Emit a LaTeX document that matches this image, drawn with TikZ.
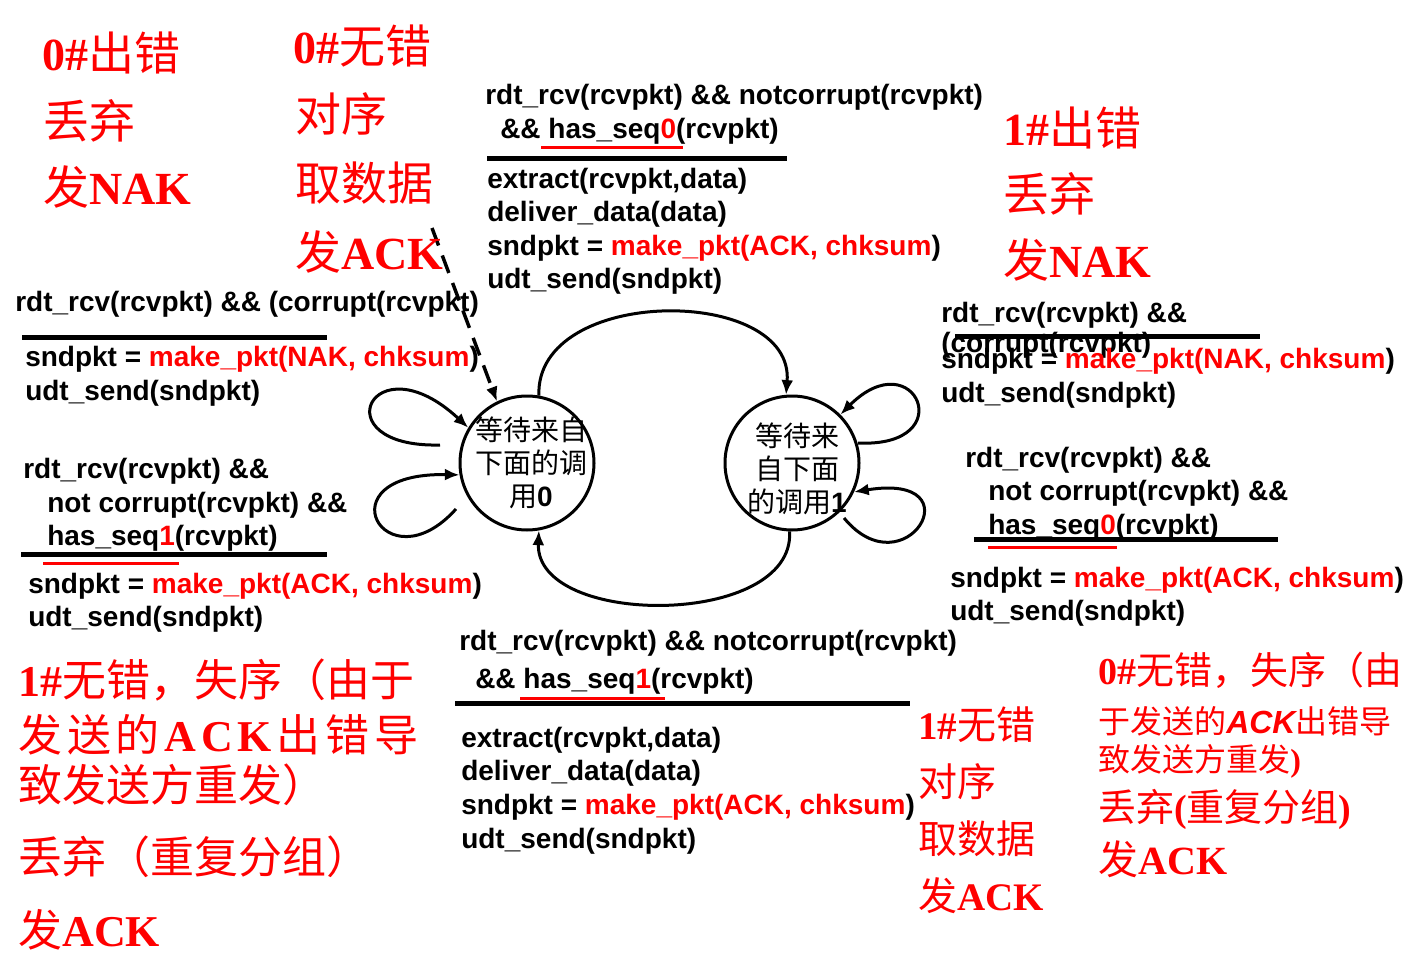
\documentclass[tikz,border=0pt]{standalone}
\usepackage{fontspec}
\usepackage{xcolor}
\usepackage{tikz}
\usetikzlibrary{arrows.meta}
\setmainfont{Liberation Sans}
\newfontfamily\cjk{Noto Sans CJK SC}
\newfontfamily\tms{Liberation Serif}
\newcommand{\romb}[1]{{\tms\bfseries #1}}
\newcommand{\redtxt}[1]{\textcolor{red}{#1}}
\newcommand{\acki}{{\rmfamily\bfseries\itshape ACK}}

\begin{document}
\begin{tikzpicture}[x=0.75pt, y=-0.75pt,
    code/.style={anchor=base west, inner sep=0pt, font=\fontsize{21}{25}\selectfont\bfseries},
    note/.style={anchor=base west, inner sep=0pt, text=red, font=\fontsize{34.5}{40}\selectfont\cjk},
    state/.style={draw, circle, line width=2.25pt, minimum size=100.5pt, inner sep=0pt},
    stxt/.style={align=center, inner sep=0pt, font=\fontsize{21}{25}\selectfont\cjk},
    edge/.style={line width=2.25pt, -{Latex[length=11pt, width=9pt]}},
    dashedge/.style={line width=2.6pt, dash pattern=on 14pt off 8pt, -{Latex[length=11pt, width=9pt]}},
    rule/.style={line width=3.75pt},
    redline/.style={red, line width=2.25pt}]
    \useasboundingbox (0,0) rectangle (1418,956);

    % States
    \node[state] (s0) at (527,463) {};
    \node[state] (s1) at (792,463) {};
    \node[stxt] (s0t) at (531,463) {等待来自\\下面的调\\用{\rmfamily\bfseries 0}};
    \node[stxt] (s1t) at (797,469) {等待来\\自下面\\的调用{\rmfamily\bfseries 1}};

    % Transitions between the states
    \draw[edge] (s0.80) .. controls (535,285) and (795,285) .. (s1.95);
    \draw[edge] (s1.268) .. controls (795,628) and (535,628) .. (s0.280);

    % Self loops
    \coordinate (l0a) at (440,445);
    \coordinate (l0b) at (456,509);
    \coordinate (l1a) at (858,443);
    \coordinate (l1b) at (844,518);
    \draw[edge] (l0a) .. controls (320,448) and (372,338) .. (s0.149);
    \draw[edge] (l0b) .. controls (385,588) and (320,472) .. (s0.190);
    \draw[edge] (l1a) .. controls (962,448) and (915,340) .. (s1.45);
    \draw[edge] (l1b) .. controls (905,592) and (978,472) .. (s1.335);

    % Dashed pointer
    \coordinate (dsh) at (432,228);
    \draw[dashedge] (dsh) -- (s0.116);

    % Top action
    \node[code] (t1) at (485,105) {rdt\_rcv(rcvpkt) \&\& notcorrupt(rcvpkt)};
    \node[code] (t2) at (500,138) {\&\& has\_seq\redtxt{0}(rcvpkt)};
    \draw[redline] (541,147) -- (683,147);
    \draw[rule] (487,158) -- (787,158);
    \node[code] (t3) at (487,188) {extract(rcvpkt,data)};
    \node[code] (t4) at (487,221) {deliver\_data(data)};
    \node[code] (t5) at (487,255) {sndpkt = \redtxt{make\_pkt(ACK, chksum})};
    \node[code] (t6) at (487,288) {udt\_send(sndpkt)};

    % Left upper loop
    \node[code] (la1) at (15,311) {rdt\_rcv(rcvpkt) \&\& (corrupt(rcvpkt)};
    \draw[rule] (22,337) -- (327,337);
    \node[code] (la2) at (25,366) {sndpkt = \redtxt{make\_pkt(NAK, chksum})};
    \node[code] (la3) at (25,400) {udt\_send(sndpkt)};

    % Left lower loop
    \node[code] (lb1) at (23,478) {rdt\_rcv(rcvpkt) \&\&};
    \node[code] (lb2) at (47,512) {not corrupt(rcvpkt) \&\&};
    \node[code] (lb3) at (47,545) {has\_seq\redtxt{1}(rcvpkt)};
    \draw[rule] (21,554) -- (327,554);
    \draw[redline] (43,563) -- (179,563);
    \node[code] (lb4) at (28,593) {sndpkt = \redtxt{make\_pkt(ACK, chksum})};
    \node[code] (lb5) at (28,626) {udt\_send(sndpkt)};

    % Right upper loop
    \node[code] (ra1) at (941,322) {rdt\_rcv(rcvpkt) \&\&};
    \node[code] (ra2) at (941,352) {(corrupt(rcvpkt)};
    \draw[rule] (955,336) -- (1260,336);
    \node[code] (ra3) at (941,368) {sndpkt = \redtxt{make\_pkt(NAK, chksum})};
    \node[code] (ra4) at (941,402) {udt\_send(sndpkt)};

    % Right lower loop
    \node[code] (rb1) at (965,467) {rdt\_rcv(rcvpkt) \&\&};
    \node[code] (rb2) at (988,500) {not corrupt(rcvpkt) \&\&};
    \node[code] (rb3) at (988,534) {has\_seq\redtxt{0}(rcvpkt)};
    \draw[rule] (974,539) -- (1278,539);
    \draw[redline] (988,547) -- (1117,547);
    \node[code] (rb4) at (950,587) {sndpkt = \redtxt{make\_pkt(ACK, chksum})};
    \node[code] (rb5) at (950,620) {udt\_send(sndpkt)};

    % Bottom action
    \node[code] (b1) at (459,650) {rdt\_rcv(rcvpkt) \&\& notcorrupt(rcvpkt)};
    \node[code] (b2) at (475,688) {\&\& has\_seq\redtxt{1}(rcvpkt)};
    \draw[redline] (520,698) -- (665,698);
    \draw[rule] (455,703) -- (910,703);
    \node[code] (b3) at (461,747) {extract(rcvpkt,data)};
    \node[code] (b4) at (461,780) {deliver\_data(data)};
    \node[code] (b5) at (461,814) {sndpkt = \redtxt{make\_pkt(ACK, chksum})};
    \node[code] (b6) at (461,848) {udt\_send(sndpkt)};

    % Notes
    \node[note] (na1) at (42,71) {\romb{0\#}出错};
    \node[note] (na2) at (43,138) {丢弃};
    \node[note] (na3) at (43,204) {发\romb{NAK}};

    \node[note] (nb1) at (293,64) {\romb{0\#}无错};
    \node[note] (nb2) at (295,132) {对序};
    \node[note] (nb3) at (295,200) {取数据};
    \node[note] (nb4) at (295,269) {发\romb{ACK}};

    \node[note] (nc1) at (1003,146) {\romb{1\#}出错};
    \node[note] (nc2) at (1003,211) {丢弃};
    \node[note] (nc3) at (1003,277) {发\romb{NAK}};

    \node[note, font=\fontsize{33}{38}\selectfont\cjk] (nd1) at (18,696) {\romb{1\#}无错，失序（由于};
    \node[note, font=\fontsize{33}{38}\selectfont\cjk] (nd2) at (18,751)
        {\makebox[300pt][s]{发\hfill 送\hfill 的\hfill\romb{A\hfill C\hfill K}\hfill 出\hfill 错\hfill 导}};
    \node[note, font=\fontsize{33}{38}\selectfont\cjk] (nd3) at (18,801) {致发送方重发）};
    \node[note, font=\fontsize{33}{38}\selectfont\cjk] (nd4) at (18,873) {丢弃（重复分组）};
    \node[note, font=\fontsize{33}{38}\selectfont\cjk] (nd5) at (18,946) {发\romb{ACK}};

    \node[note, font=\fontsize{29.25}{34}\selectfont\cjk] (ne1) at (918,739) {\romb{1\#}无错};
    \node[note, font=\fontsize{29.25}{34}\selectfont\cjk] (ne2) at (918,796) {对序};
    \node[note, font=\fontsize{29.25}{34}\selectfont\cjk] (ne3) at (918,853) {取数据};
    \node[note, font=\fontsize{29.25}{34}\selectfont\cjk] (ne4) at (918,910) {发\romb{ACK}};

    \node[note, font=\fontsize{28.5}{33}\selectfont\cjk] (nf1) at (1098,684) {\romb{0\#}无错，失序（由};
    \node[note, font=\fontsize{24}{28}\selectfont\cjk] (nf2) at (1098,733) {于发送的\acki 出错导};
    \node[note, font=\fontsize{24}{28}\selectfont\cjk] (nf3) at (1098,771) {致发送方重发\romb{)}};
    \node[note, font=\fontsize{28.5}{33}\selectfont\cjk] (nf4) at (1098,821) {丢弃\romb{(}重复分组\romb{)}};
    \node[note, font=\fontsize{30}{35}\selectfont\cjk] (nf5) at (1098,874) {发\romb{ACK}};
\end{tikzpicture}
\end{document}
